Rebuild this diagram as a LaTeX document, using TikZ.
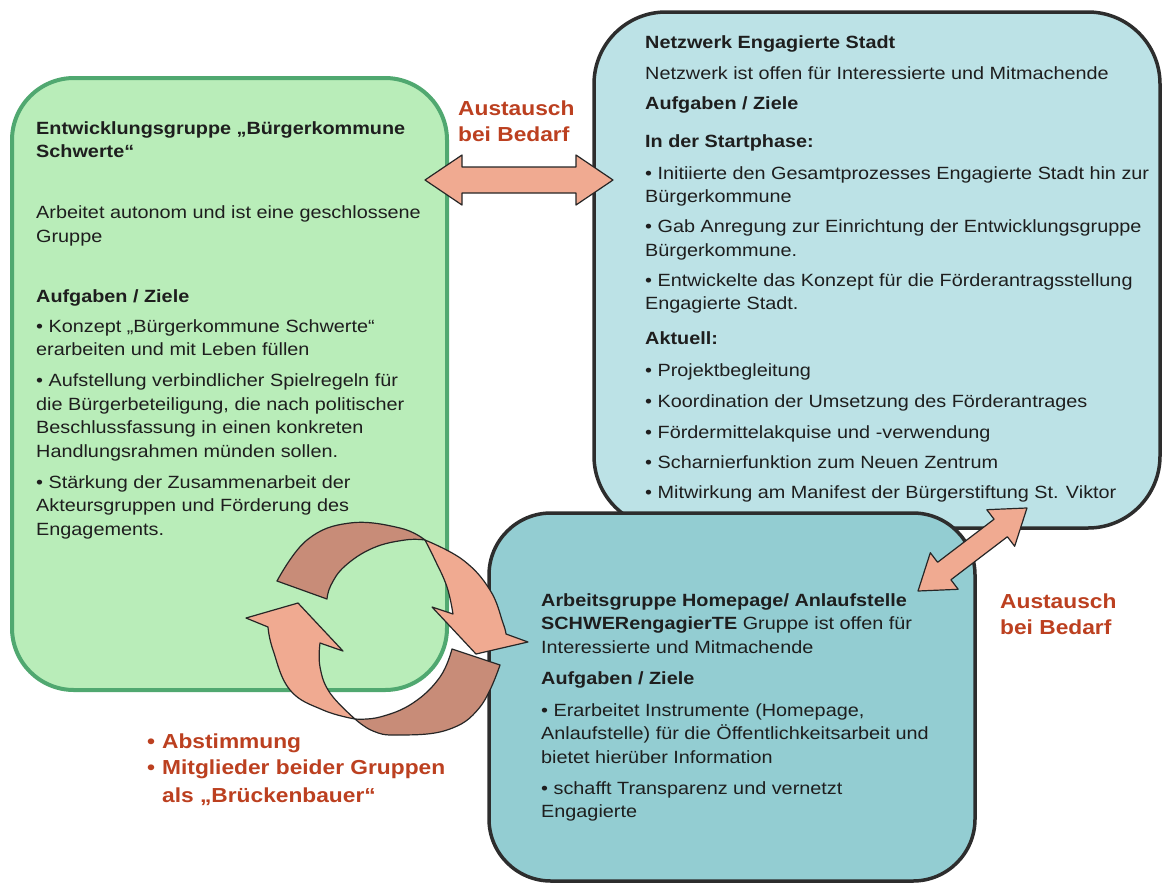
\documentclass[tikz,border=0pt]{standalone}
\usepackage{fontspec}
\setmainfont{Liberation Sans}[FakeStretch=1.12]
\usetikzlibrary{calc}
\definecolor{gfill}{RGB}{185,237,185}
\definecolor{gline}{RGB}{80,168,112}
\definecolor{bfill}{RGB}{188,226,230}
\definecolor{cfill}{RGB}{147,205,210}
\definecolor{boxline}{RGB}{45,45,45}
\definecolor{pinkA}{RGB}{240,170,145}
\definecolor{brownA}{RGB}{200,140,120}
\definecolor{redtxt}{RGB}{188,64,32}
\definecolor{bodytxt}{RGB}{30,30,30}
\newcommand{\boxtext}[1]{\parbox[t]{560pt}{\raggedright\fontsize{17.7}{23.5}\selectfont #1}}
\newcommand{\redtext}[1]{\parbox[t]{320pt}{\raggedright\bfseries\fontsize{20.3}{26.5}\selectfont #1}}
\begin{document}
\begin{tikzpicture}[x=1pt,y=-1pt,
  box/.style={draw=boxline, rounded corners=62pt, line width=3.5pt, inner sep=0pt},
  body/.style={anchor=base west, inner sep=0pt, text=bodytxt},
  red/.style={anchor=base west, inner sep=0pt, text=redtxt},
  blk/.style={fill=pinkA, draw=black!85, line width=1.2pt, line join=round},
  brw/.style={fill=brownA, draw=black!85, line width=1.2pt, line join=round},
]
\useasboundingbox[fill=white] (0,0) rectangle (1164,884);

% boxes
\node[box, draw=gline, line width=4pt, fill=gfill, minimum width=435pt, minimum height=612pt] (green) at (229.5,384) {};
\node[box, fill=bfill, rounded corners=72pt, minimum width=566pt, minimum height=516pt] (net) at (877,270) {};
\node[box, fill=cfill, minimum width=486pt, minimum height=368pt] (home) at (732,697) {};

% texts
\node[body] (gtext) at (36,134) {\boxtext{%
\textbf{Entwicklungsgruppe „Bürgerkommune}\\
\textbf{Schwerte“}\\[37.5pt]
Arbeitet autonom und ist eine geschlossene\\
Gruppe\\[36.5pt]
\textbf{Aufgaben / Ziele}\\[6.5pt]
• Konzept „Bürgerkommune Schwerte“\\
erarbeiten und mit Leben füllen\\[7.5pt]
• Aufstellung verbindlicher Spielregeln für\\
die Bürgerbeteiligung, die nach politischer\\
Beschlussfassung in einen konkreten\\
Handlungsrahmen münden sollen.\\[7.5pt]
• Stärkung der Zusammenarbeit der\\
Akteursgruppen und Förderung des\\
Engagements.}};

\node[body] (ntext) at (645,48) {\boxtext{%
\textbf{Netzwerk Engagierte Stadt}\\[7.5pt]
Netzwerk ist offen für Interessierte und Mitmachende\\[6.5pt]
\textbf{Aufgaben / Ziele}\\[14.5pt]
\textbf{In der Startphase:}\\[8.5pt]
• Initiierte den Gesamtprozesses Engagierte Stadt hin zur\\
Bürgerkommune\\[6.5pt]
• Gab Anregung zur Einrichtung der Entwicklungsgruppe\\
Bürgerkommune.\\[6.5pt]
• Entwickelte das Konzept für die Förderantragsstellung\\
Engagierte Stadt.\\[11.5pt]
\textbf{Aktuell:}\\[8.5pt]
• Projektbegleitung\\[7.5pt]
• Koordination der Umsetzung des Förderantrages\\[7.5pt]
• Fördermittelakquise und -verwendung\\[6.5pt]
• Scharnierfunktion zum Neuen Zentrum\\[6.5pt]
• Mitwirkung am Manifest der Bürgerstiftung St. Viktor}};

\node[body] (htext) at (541,606) {\boxtext{%
\textbf{Arbeitsgruppe Homepage/ Anlaufstelle}\\
\textbf{SCHWERengagierTE} Gruppe ist offen für\\
Interessierte und Mitmachende\\[7.5pt]
\textbf{Aufgaben / Ziele}\\[8.5pt]
• Erarbeitet Instrumente (Homepage,\\
Anlaufstelle) für die Öffentlichkeitsarbeit und\\
bietet hierüber Information\\[7.5pt]
• schafft Transparenz und vernetzt\\
Engagierte}};

% circular arrows
\filldraw[brw] (277,581) -- plot[smooth, tension=0.7] coordinates {(277,581) (307,540) (350,523) (400,528) (425,540)}
  -- plot[smooth, tension=0.7] coordinates {(425,540) (405,540) (373,548) (345,566) (331,585) (327,599)} -- cycle;
\filldraw[blk] (425,540) -- plot[smooth, tension=0.7] coordinates {(425,540) (463,560) (490,590) (503,623) (506,634)}
  -- (528,642) -- (476,654) -- (432,607) -- (453,614)
  -- plot[smooth, tension=0.7] coordinates {(453,614) (447,587) (435,560) (425,540)} -- cycle;
\filldraw[brw] (355,719) -- plot[smooth, tension=0.7] coordinates {(355,719) (373,731) (397,735) (447,730) (480,707) (500,665)}
  -- (452,649) -- plot[smooth, tension=0.7] coordinates {(452,649) (440,677) (413,703) (380,717) (355,719)} -- cycle;
\filldraw[blk] (355,719) -- plot[smooth, tension=0.7] coordinates {(355,719) (323,710) (290,690) (273,650) (268,627)}
  -- (246,618) -- (298,603) -- (343,651) -- (320,643)
  -- plot[smooth, tension=0.7] coordinates {(320,643) (320,667) (330,693) (355,719)} -- cycle;

% exchange arrows
\coordinate (t1) at (425,180);
\coordinate (t2) at (613,180);
\begin{scope}[shift={(t1)}]
\filldraw[blk] (0,0) -- (37,-25) -- (37,-13) -- (151,-13) -- (151,-25) -- (188,0)
  -- (151,25) -- (151,13) -- (37,13) -- (37,25) -- cycle;
\end{scope}
\coordinate (d1) at (918,591);
\coordinate (d2) at (1027,508);
\begin{scope}[shift={(d1)}, rotate=37.3]
\filldraw[blk] (0,0) -- (33,-23) -- (33,-11) -- (104,-11) -- (104,-23) -- (137,0)
  -- (104,23) -- (104,11) -- (33,11) -- (33,23) -- cycle;
\end{scope}

% red labels
\node[red] (lbl1) at (458,115) {\redtext{Austausch\\bei Bedarf}};
\node[red] (lbl2) at (1000,608) {\redtext{Austausch\\bei Bedarf}};
\node[red] (lbl3) at (147,748) {\redtext{\makebox[15pt][l]{•}Abstimmung\\
\makebox[15pt][l]{•}Mitglieder beider Gruppen\\[1pt]
\hspace*{15pt}als „Brückenbauer“}};
\end{tikzpicture}
\end{document}
